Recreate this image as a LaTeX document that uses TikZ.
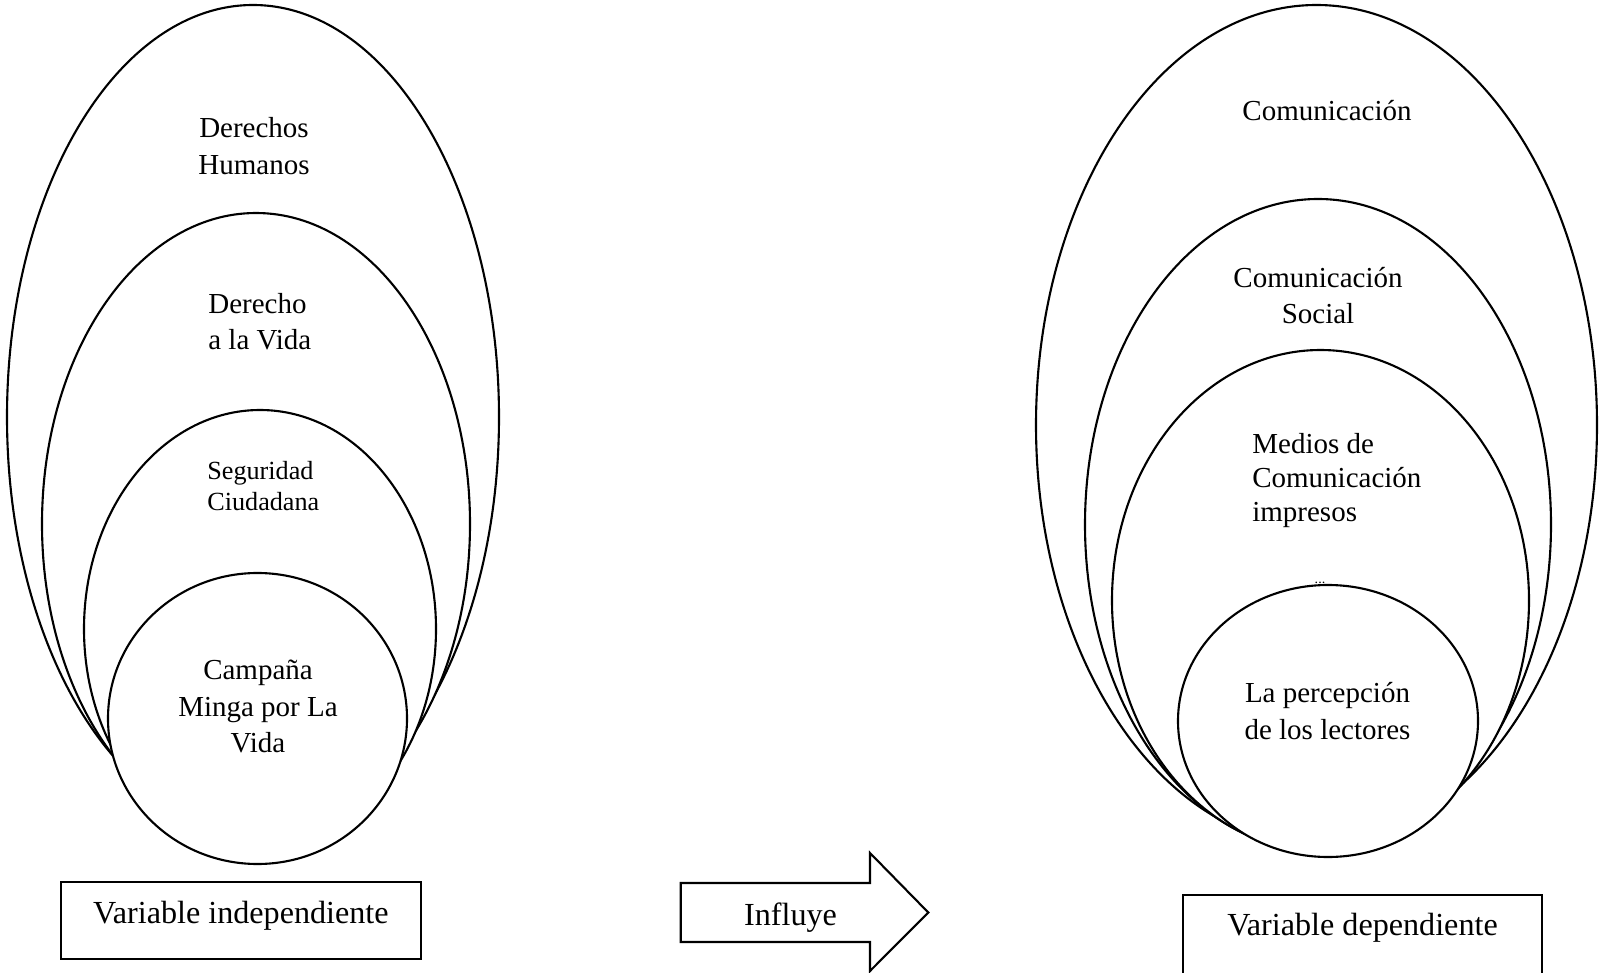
\documentclass[tikz,border=0pt]{standalone}
\usepackage{fontspec}
\setmainfont{Liberation Serif}
\tikzset{
ring/.style={ % nested ellipses and circles
draw, line width=1.2pt, fill=white},
lbl/.style={font=\fontsize{16.5}{20.6}\selectfont, align=center, inner sep=0pt},
lblsmall/.style={font=\fontsize{14.9}{18.1}\selectfont, align=left, inner sep=0pt},
varbox/.style={ % boxes under each group
draw, line width=1.2pt, fill=white, inner sep=0pt,
font=\fontsize{18.3}{22}\selectfont}}

\begin{document}
\begin{tikzpicture}[x=0.02cm, y=0.02cm]
	\useasboundingbox (0,0) rectangle (1600,-973);
	% independent variable
	\draw[ring] (253,-417) ellipse [x radius=246, y radius=412];
	\draw[ring] (256,-524) ellipse [x radius=214, y radius=311];
	\draw[ring] (260,-629) ellipse [x radius=176, y radius=219];
	\draw[ring] (257.5,-718.5) ellipse [x radius=149.5, y radius=145.5];
	\node[lbl] (dh) at (254,-146) {Derechos\\Humanos};
	\node[lbl, align=left, anchor=west] (dv) at (208,-321.5) {Derecho\\a la Vida};
	\node[lblsmall, anchor=west] (sc) at (207,-486) {Seguridad\\Ciudadana};
	\node[lbl] (cm) at (258,-706.5) {Campaña\\Minga por La\\Vida};
	\node[varbox, minimum width=7.206cm, text height=0.826cm, text depth=0.72cm, anchor=base] (vi) at (240.9,-923) {Variable independiente};
	% dependent variable
	\draw[ring] (1316.5,-425) ellipse [x radius=280.5, y radius=420];
	\draw[ring] (1318,-524.6) ellipse [x radius=233, y radius=325.6];
	\draw[ring] (1320.5,-600.5) ellipse [x radius=208.5, y radius=250.5];
	\draw[ring] (1328,-721) ellipse [x radius=150, y radius=136];
	\node[inner sep=0pt, font=\fontsize{8}{8}\selectfont] (dots) at (1320,-583) {...};
	\node[lbl] (co) at (1327,-110.5) {Comunicación};
	\node[lbl] (cs) at (1318,-295.5) {Comunicación\\Social};
	\node[lbl, align=left, anchor=west, font=\fontsize{16.5}{19.1}\selectfont] (mc) at (1252,-480.5) {Medios de\\Comunicación\\impresos};
	\node[lbl] (pl) at (1327.5,-711) {La percepción\\de los lectores};
	\node[varbox, minimum width=7.18cm, text height=0.8cm, text depth=0.9cm, anchor=base] (vd) at (1362.5,-935) {Variable dependiente};
	% arrow between groups
	\draw[ring] (680.7,-883) -- (870,-883) -- (870,-853) -- (928.3,-912.5) -- (870,-971) -- (870,-942) -- (680.7,-942) -- cycle;
	\node[inner sep=0pt, anchor=base, font=\fontsize{18.3}{22}\selectfont] (inf) at (790.5,-925) {Influye};
\end{tikzpicture}
\end{document}
